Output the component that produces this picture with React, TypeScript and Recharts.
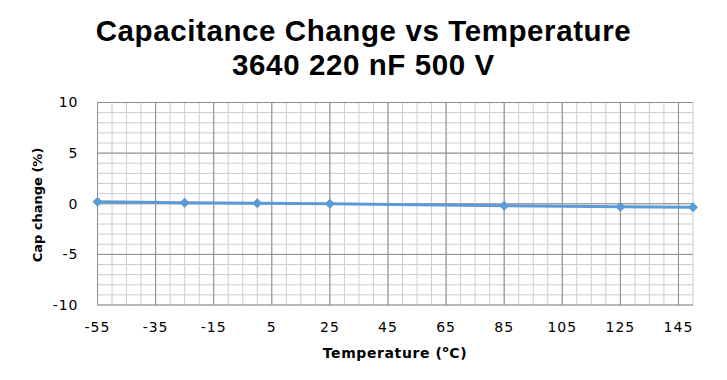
import { LineChart, Line, XAxis, YAxis, ReferenceLine } from 'recharts'

const temperatures = [-55, -25, 0, 25, 85, 125, 150]
const capChange = [0.2, 0.1, 0.05, 0.0, -0.2, -0.3, -0.35]

const xTicks = [-55, -35, -15, 5, 25, 45, 65, 85, 105, 125, 145]
const yTicks = [-10, -5, 0, 5, 10]

const titleLines = ['Capacitance Change vs Temperature', '3640 220 nF 500 V']

const data = temperatures.map((t, i) => ({ t, v: capChange[i] }))

const minorX: number[] = []
for (let x = -55; x <= 150; x += 5) minorX.push(x)
const minorY: number[] = []
for (let y = -10; y <= 10; y += 1) minorY.push(y)

const font = '"DejaVu Sans", Verdana, sans-serif'

const Diamond = (props: any) => {
  const { cx, cy } = props
  if (cx == null || cy == null) return null
  const r = 4.5
  return (
    <polygon
      points={`${cx},${cy - r} ${cx + r},${cy} ${cx},${cy + r} ${cx - r},${cy}`}
      fill="#5B9BD5"
      stroke="#5B9BD5"
    />
  )
}

export default function App() {
  return (
    <div style={{ position: 'absolute', left: 0, top: 0, width: 727, height: 380, background: '#fff' }}>
      {titleLines.map((line, i) => (
        <div
          key={line}
          style={{
            position: 'absolute',
            left: 0,
            top: 14 + i * 34,
            width: 727,
            height: 34,
            textAlign: 'center',
            fontFamily: '"Liberation Sans", Arial, sans-serif',
            fontWeight: 700,
            fontSize: 29.5,
            letterSpacing: 0.6,
            lineHeight: '34px',
            color: '#000',
            whiteSpace: 'nowrap',
          }}
        >
          {line}
        </div>
      ))}
      <LineChart width={727} height={380} data={data} margin={{ top: 102.5, right: 34, bottom: 45, left: 37.5 }}>
        {minorX.map((x) => (
          <ReferenceLine key={'mx' + x} x={x} stroke="#cccccc" strokeWidth={1} />
        ))}
        {minorY.map((y) => (
          <ReferenceLine key={'my' + y} y={y} stroke="#cccccc" strokeWidth={1} />
        ))}
        {xTicks.map((x) => (
          <ReferenceLine key={'x' + x} x={x} stroke="#8c8c8c" strokeWidth={1} />
        ))}
        {yTicks.map((y) => (
          <ReferenceLine key={'y' + y} y={y} stroke="#8c8c8c" strokeWidth={1} />
        ))}
        <XAxis
          dataKey="t"
          type="number"
          domain={[-55, 150]}
          ticks={xTicks}
          interval={0}
          axisLine={false}
          tickLine={false}
          tickSize={6}
          tickMargin={11}
          height={30}
          tick={{ fill: '#000', fontSize: 14, fontFamily: font, letterSpacing: 1 }}
        />
        <YAxis
          type="number"
          domain={[-10, 10]}
          ticks={yTicks}
          interval={0}
          axisLine={false}
          tickLine={false}
          tickSize={6}
          tickMargin={13}
          width={60}
          tick={{ fill: '#000', fontSize: 14, fontFamily: font, letterSpacing: 1 }}
        />
        <Line
          dataKey="v"
          stroke="#5B9BD5"
          strokeWidth={3}
          dot={<Diamond />}
          activeDot={false}
          isAnimationActive={false}
        />
      </LineChart>
      <div
        style={{
          position: 'absolute',
          left: 0,
          top: 344,
          width: 790,
          textAlign: 'center',
          fontFamily: font,
          fontWeight: 700,
          fontSize: 14,
          letterSpacing: 0.6,
        }}
      >
        Temperature (<sup style={{ fontSize: 9 }}>o</sup>C)
      </div>
      <div
        style={{
          position: 'absolute',
          left: 37,
          top: 205,
          transform: 'translate(-50%, -50%) rotate(-90deg)',
          whiteSpace: 'nowrap',
          fontFamily: font,
          fontWeight: 700,
          fontSize: 13,
        }}
      >
        Cap change (%)
      </div>
    </div>
  )
}
